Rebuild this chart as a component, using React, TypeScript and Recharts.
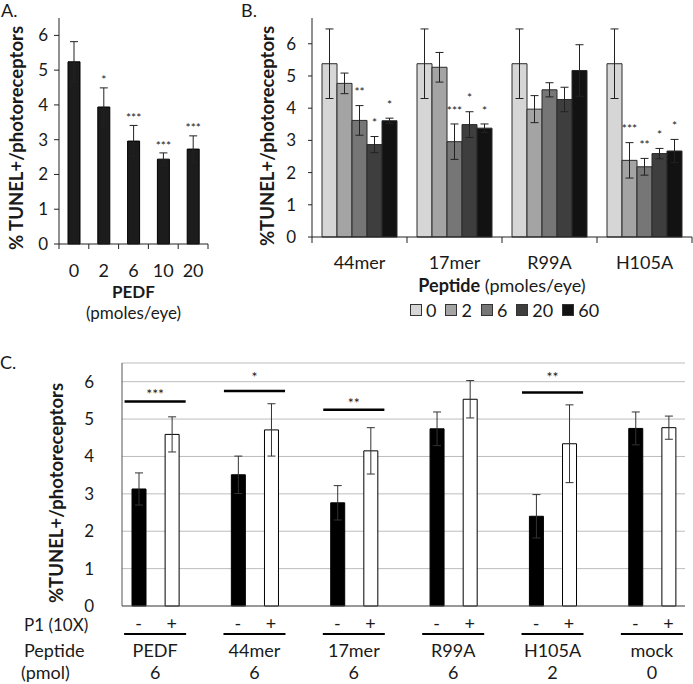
import React from "react";
import { BarChart, Bar, XAxis, YAxis, ErrorBar, LabelList, Cell, CartesianGrid, ReferenceLine, Legend } from "recharts";

const FONT = "Lato, 'Liberation Sans', sans-serif";
const INK = "#1a1a1a";

// Panel A: PEDF dose response
const dosesA = ["0", "2", "6", "10", "20"];
const meanA = [5.24, 3.94, 2.96, 2.44, 2.73];
const errA = [0.58, 0.55, 0.45, 0.18, 0.38];
const starA = ["", "*", "***", "***", "***"];

// Panel B: peptides, one list per peptide (doses 0, 2, 6, 20, 60)
const peptidesB = ["44mer", "17mer", "R99A", "H105A"];
const dosesB = ["0", "2", "6", "20", "60"];
const colorsB = ["#d6d6d6", "#a4a4a4", "#767676", "#3e3e3e", "#121212"];
const mean44 = [5.38, 4.77, 3.62, 2.87, 3.61];
const err44 = [1.08, 0.32, 0.46, 0.25, 0.08];
const star44 = ["", "", "**", "*", "*"];
const mean17 = [5.38, 5.27, 2.96, 3.49, 3.38];
const err17 = [1.08, 0.46, 0.55, 0.4, 0.13];
const star17 = ["", "", "***", "*", "*"];
const meanR99 = [5.38, 3.97, 4.57, 4.27, 5.17];
const errR99 = [1.08, 0.42, 0.22, 0.38, 0.8];
const starR99 = ["", "", "", "", ""];
const meanH105 = [5.38, 2.38, 2.18, 2.59, 2.67];
const errH105 = [1.08, 0.55, 0.26, 0.16, 0.36];
const starH105 = ["", "***", "**", "*", "*"];

// Panel C: P1 competition
const groupsC = ["PEDF", "44mer", "17mer", "R99A", "H105A", "mock"];
const pmolC = ["6", "6", "6", "6", "2", "0"];
const minusC = [3.13, 3.51, 2.76, 4.74, 2.4, 4.75];
const minusErrC = [0.43, 0.5, 0.46, 0.45, 0.58, 0.44];
const plusC = [4.59, 4.71, 4.15, 5.53, 4.34, 4.77];
const plusErrC = [0.47, 0.7, 0.62, 0.5, 1.04, 0.31];
const sigGroupsC = ["PEDF", "44mer", "17mer", "H105A"];
const sigStarsC = ["***", "*", "**", "**"];
const sigLineC = [5.47, 5.75, 5.25, 5.71];
const sigStarLevelC = [5.73, 6.19, 5.51, 6.19];

const yTicks = [0, 1, 2, 3, 4, 5, 6];

const dataA = dosesA.map((d, i) => ({ dose: d, mean: meanA[i], err: errA[i], star: starA[i] }));

const meansB = [mean44, mean17, meanR99, meanH105];
const errsB = [err44, err17, errR99, errH105];
const starsB = [star44, star17, starR99, starH105];
const dataB = peptidesB.map((p, i) => {
  const row: any = { peptide: p };
  dosesB.forEach((_, k) => {
    row[`v${k}`] = meansB[i][k];
    row[`e${k}`] = errsB[i][k];
    row[`s${k}`] = starsB[i][k];
  });
  return row;
});

const dataC: any[] = [];
groupsC.forEach((g, i) => {
  dataC.push({ key: `${g}-`, sign: "-", group: g, pmol: pmolC[i], value: minusC[i], err: minusErrC[i], fill: "#000" });
  dataC.push({ key: `${g}+`, sign: "+", group: g, pmol: pmolC[i], value: plusC[i], err: plusErrC[i], fill: "#fff" });
  if (i < groupsC.length - 1) dataC.push({ key: `gap${i}`, sign: "", value: null, err: null, fill: "none" });
});

function bandTick(labelDy: number, tickLen: number, fontSize: number) {
  return (p: any) => {
    const half = p.payload?.offset ?? p.width / p.visibleTicksCount / 2;
    const last = p.index === p.visibleTicksCount - 1;
    return (
      <g>
        <line x1={p.x - half} x2={p.x - half} y1={p.y} y2={p.y + tickLen} stroke="#222" />
        {last && <line x1={p.x + half} x2={p.x + half} y1={p.y} y2={p.y + tickLen} stroke="#222" />}
        <text x={p.x} y={p.y + labelDy} textAnchor="middle" fontSize={fontSize} fill={INK}>
          {p.payload.value}
        </text>
      </g>
    );
  };
}

function starLabel(getVal: (i: number) => number, getErr: (i: number) => number, gap: number, fs: number) {
  return (props: any) => {
    if (!props.value) return null;
    const vb = props.viewBox && props.viewBox.width != null ? props.viewBox : props;
    const i = props.index;
    const pxPerUnit = vb.height / getVal(i);
    const top = vb.y - getErr(i) * pxPerUnit;
    return (
      <text x={vb.x + vb.width / 2} y={top - gap + 0.55 * fs} textAnchor="middle" fontSize={fs} fill={INK}>
        {props.value}
      </text>
    );
  };
}

// base = text baseline in page pixels
function Txt({ left, base, size = 18, bold = false, width, children }: any) {
  const lh = size * 0.9;
  return (
    <div
      style={{
        position: "absolute",
        left,
        width,
        top: base - (0.45 + 0.387) * size,
        fontSize: size,
        lineHeight: `${lh}px`,
        fontWeight: bold ? 700 : 400,
        whiteSpace: "nowrap",
        textAlign: width ? "center" : "left",
        color: INK,
      }}
    >
      {children}
    </div>
  );
}

function VLabel({ cx, cy, children }: any) {
  return (
    <div
      style={{
        position: "absolute",
        left: cx,
        top: cy,
        transform: "translate(-50%, -50%) rotate(-90deg)",
        fontSize: 18.5,
        fontWeight: 700,
        whiteSpace: "nowrap",
        color: INK,
      }}
    >
      {children}
    </div>
  );
}

function PanelA() {
  return (
    <BarChart width={215} height={320} data={dataA} margin={{ top: 18, right: 7, bottom: 0, left: 0 }}>
      <XAxis xAxisId="t" orientation="top" dataKey="dose" height={0} tick={false} tickLine={false} axisLine={{ stroke: "#8a8a8a" }} />
      <YAxis yAxisId="r" orientation="right" width={0} domain={[0, 1]} tick={false} tickLine={false} axisLine={{ stroke: "#333" }} />
      <YAxis domain={[0, 6.5]} ticks={yTicks} width={59} tickSize={5} tickMargin={6} tick={{ fontSize: 17, fill: INK }} axisLine={{ stroke: "#222" }} tickLine={{ stroke: "#222" }} />
      <XAxis dataKey="dose" interval={0} height={76} tickLine={false} tickSize={0} tickMargin={0} axisLine={{ stroke: "#222" }} tick={bandTick(33, 5, 18)} />
      <Bar dataKey="mean" fill="#1c1c1c" stroke="#000" barSize={12} isAnimationActive={false}>
        <ErrorBar dataKey="err" width={4} stroke="#222" strokeWidth={1} />
        <LabelList dataKey="star" content={starLabel((i) => meanA[i], (i) => errA[i], 10, 12)} />
      </Bar>
    </BarChart>
  );
}

function LegendB(props: any) {
  const items = [...(props.payload || [])].sort((a: any, b: any) => dosesB.indexOf(a.value) - dosesB.indexOf(b.value));
  return (
    <div style={{ display: "flex", alignItems: "center", gap: 9, fontSize: 18, lineHeight: "16px", color: INK }}>
      {items.map((p: any) => (
        <span key={p.value} style={{ display: "flex", alignItems: "center" }}>
          <span style={{ width: 12, height: 12, boxSizing: "border-box", background: p.color, border: "1px solid #333", marginRight: 4 }} />
          {p.value}
        </span>
      ))}
    </div>
  );
}

function PanelB() {
  return (
    <BarChart width={463} height={320} data={dataB} margin={{ top: 18, right: 1, bottom: 0, left: 0 }} barGap={0}>
      <XAxis xAxisId="t" orientation="top" dataKey="peptide" height={0} tick={false} tickLine={false} axisLine={{ stroke: "#8a8a8a" }} />
      <YAxis yAxisId="r" orientation="right" width={0} domain={[0, 1]} tick={false} tickLine={false} axisLine={{ stroke: "#333" }} />
      <YAxis domain={[0, 6.8]} ticks={yTicks} width={82} tickSize={4} tickMargin={12} tick={{ fontSize: 17, fill: INK }} axisLine={{ stroke: "#222" }} tickLine={{ stroke: "#222" }} />
      <XAxis dataKey="peptide" interval={0} height={83} tickLine={false} tickSize={0} tickMargin={0} axisLine={{ stroke: "#222" }} tick={bandTick(32, 6, 18)} />
      {dosesB.map((d, k) => (
        <Bar key={d} dataKey={`v${k}`} name={d} fill={colorsB[k]} stroke="#2a2a2a" strokeWidth={1} barSize={15} isAnimationActive={false}>
          <ErrorBar dataKey={`e${k}`} width={4} stroke="#222" strokeWidth={1} />
          <LabelList dataKey={`s${k}`} content={starLabel((i) => meansB[i][k], (i) => errsB[i][k], 16, 12)} />
        </Bar>
      ))}
      <Legend layout="horizontal" verticalAlign="middle" align="center" wrapperStyle={{ left: 180, top: 302, width: 260 }} content={LegendB} />
    </BarChart>
  );
}

function tickC(p: any) {
  const row = dataC.find((r) => r.key === p.payload.value);
  if (!row || !row.sign) return <g />;
  const half = p.payload?.offset ?? p.width / p.visibleTicksCount / 2;
  const gx = p.x + half;
  return (
    <g>
      <text x={p.x} y={p.y + 24} textAnchor="middle" fontSize={18} fill={INK}>
        {row.sign}
      </text>
      {row.sign === "-" && (
        <g>
          <line x1={gx - 31} x2={gx + 31} y1={p.y + 28} y2={p.y + 28} stroke="#000" strokeWidth={2} />
          <text x={gx} y={p.y + 51} textAnchor="middle" fontSize={18} fill={INK}>
            {row.group}
          </text>
          <text x={gx} y={p.y + 73} textAnchor="middle" fontSize={18} fill={INK}>
            {row.pmol}
          </text>
        </g>
      )}
    </g>
  );
}

function PanelC() {
  return (
    <BarChart width={693} height={354} data={dataC} margin={{ top: 33, right: 8, bottom: 0, left: 0 }}>
      <CartesianGrid horizontal vertical={false} stroke="#bdbdbd" />
      <XAxis xAxisId="t" orientation="top" dataKey="key" height={0} tick={false} tickLine={false} axisLine={{ stroke: "#444" }} />
      <YAxis yAxisId="r" orientation="right" width={0} domain={[0, 1]} tick={false} tickLine={false} axisLine={{ stroke: "#444" }} />
      <YAxis domain={[0, 6.5]} ticks={yTicks} width={122} tickLine={false} tickMargin={22} tick={{ fontSize: 17, fill: INK }} axisLine={{ stroke: "#555" }} />
      <XAxis dataKey="key" interval={0} height={78} tickLine={false} tickSize={0} tickMargin={0} axisLine={{ stroke: "#555" }} tick={tickC} />
      <Bar dataKey="value" barSize={14} stroke="#000" strokeWidth={1} isAnimationActive={false}>
        {dataC.map((r) => (
          <Cell key={r.key} fill={r.fill} />
        ))}
        <ErrorBar dataKey="err" width={4} stroke="#333" strokeWidth={1} />
      </Bar>
      {sigGroupsC.map((g, i) => (
        <ReferenceLine
          key={`l${g}`}
          segment={[{ x: `${g}-`, y: sigLineC[i] }, { x: `${g}+`, y: sigLineC[i] }]}
          shape={(p: any) => <line x1={p.x1 - 14} y1={p.y1} x2={p.x2 + 14} y2={p.y2} stroke="#000" strokeWidth={2.5} />}
        />
      ))}
      {sigGroupsC.map((g, i) => (
        <ReferenceLine
          key={`s${g}`}
          segment={[{ x: `${g}-`, y: sigStarLevelC[i] }, { x: `${g}+`, y: sigStarLevelC[i] }]}
          shape={(p: any) => (
            <text x={(p.x1 + p.x2) / 2} y={p.y1 + 0.55 * 14} textAnchor="middle" fontSize={14} fill={INK}>
              {sigStarsC[i]}
            </text>
          )}
        />
      ))}
    </BarChart>
  );
}

export default function App() {
  return (
    <div style={{ position: "absolute", left: 0, top: 0, width: 693, height: 684, background: "#fff", fontFamily: FONT, color: INK }}>
      <div style={{ position: "absolute", left: 0, top: 0 }}>
        <PanelA />
      </div>
      <div style={{ position: "absolute", left: 230, top: 0 }}>
        <PanelB />
      </div>
      <div style={{ position: "absolute", left: 0, top: 330 }}>
        <PanelC />
      </div>

      <Txt left={1} base={17} size={18}>A.</Txt>
      <Txt left={241} base={17} size={18}>B.</Txt>
      <Txt left={0} base={369} size={18}>C.</Txt>

      <VLabel cx={15.5} cy={138}>% TUNEL+/photoreceptors</VLabel>
      <VLabel cx={266.5} cy={136}>%TUNEL+/photoreceptors</VLabel>
      <VLabel cx={56} cy={493}>%TUNEL+/photoreceptors</VLabel>

      <Txt left={59} width={149} base={298} size={17} bold>PEDF</Txt>
      <Txt left={59} width={149} base={319} size={17}>(pmoles/eye)</Txt>
      <Txt left={312} width={380} base={292}>
        <b>Peptide</b> (pmoles/eye)
      </Txt>

      <Txt left={24} base={631} size={17}>P1 (10X)</Txt>
      <Txt left={24} base={657}>Peptide</Txt>
      <Txt left={21} base={679}>(pmol)</Txt>
    </div>
  );
}
